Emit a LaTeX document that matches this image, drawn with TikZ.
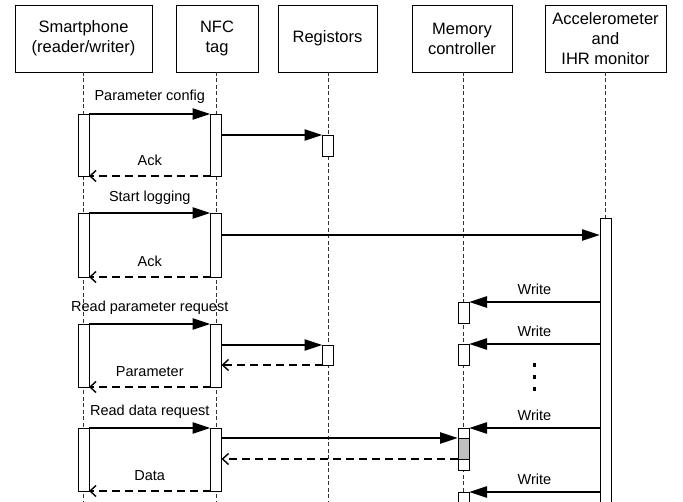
\documentclass[tikz,border=0pt]{standalone}
\usepackage{fontspec}
\setmainfont{Liberation Sans}
\usetikzlibrary{arrows.meta}

\tikzset{
  head/.style={draw, line width=0.8pt, minimum width=#1, minimum height=67pt,
    inner sep=0pt, outer sep=0pt, align=center,
    font=\fontsize{16.5}{20}\selectfont},
  life/.style={line width=0.6pt, dash pattern=on 4pt off 2.5pt, black!80},
  act/.style={draw, fill=white, line width=0.8pt, minimum width=11pt,
    inner sep=0pt, outer sep=0pt},
  msg/.style={line width=2.4pt, -{Triangle[length=18pt,width=11pt]}},
  ret/.style={line width=1.4pt, dash pattern=on 8pt off 5pt,
    -{Straight Barb[length=6pt,width=11pt,line width=1.4pt]}},
  lbl/.style={font=\fontsize{14.5}{17}\selectfont, inner sep=0pt,
    text height=10.5pt, text depth=3pt},
}

% activation bar between two y values on a lifeline at x
\newcommand{\actbar}[4]{%
  \node[act, minimum height={#4-#3}] (#1) at (#2,{(#3+#4)/2}) {};}

\begin{document}
\begin{tikzpicture}[x=1pt,y=-1pt]
\useasboundingbox (0,0) rectangle (683,502);

% participants
\node[head, minimum width=137pt] (hS) at (83.5,38.5) {Smartphone\\(reader/writer)};
\node[head, minimum width=82pt]  (hN) at (217,38.5)  {NFC\\tag};
\node[head, minimum width=99pt]  (hR) at (327.5,38.5) {Registors};
\node[head, minimum width=100pt] (hM) at (462,38.5)  {Memory\\controller};
\node[head, minimum width=121pt] (hA) at (605.5,38.5) {Accelerometer\\and\\IHR monitor};

% lifelines
\coordinate (eS) at (83.5,502);
\coordinate (eN) at (216,502);
\coordinate (eR) at (328,502);
\coordinate (eM) at (463.5,502);
\coordinate (eA) at (605.5,502);
\draw[life] (83.5,72) -- (eS);
\draw[life] (216,72) -- (eN);
\draw[life] (328,72) -- (eR);
\draw[life] (463.5,72) -- (eM);
\draw[life] (605.5,72) -- (eA);

% activation bars
\actbar{s1}{83.5}{114}{176}
\actbar{s2}{83.5}{213}{277}
\actbar{s3}{83.5}{324}{387}
\actbar{s4}{83.5}{428}{491}
\actbar{n1}{216}{114}{176}
\actbar{n2}{216}{213}{277}
\actbar{n3}{216}{324}{387}
\actbar{n4}{216}{428}{491}
\actbar{r1}{328}{135}{156}
\actbar{r2}{328}{345}{365}
\actbar{m1}{463.5}{302}{323}
\actbar{m2}{463.5}{344}{365}
\actbar{m3}{463.5}{428}{470}
\node[act, fill=black!25, minimum height=21pt] (m3g) at (463.5,448.5) {};
\actbar{m4}{463.5}{492}{506}
\actbar{a1}{605.5}{218}{506}

% parameter configuration
\draw[msg] (s1.north east) -- node[lbl, above=9pt] {Parameter config} (n1.north west);
\draw[msg] (n1.east |- r1.north) -- (r1.north west);
\draw[ret] (n1.south west) -- node[lbl, above=7pt] {Ack} (s1.south east);

% start logging
\draw[msg] (s2.north east) -- node[lbl, above=7pt] {Start logging} (n2.north west);
\draw[msg] (n2.east |- 0,235) -- (a1.west |- 0,235);
\draw[ret] (n2.south west) -- node[lbl, above=7pt] {Ack} (s2.south east);

% read parameter
\draw[msg] (s3.north east) -- node[lbl, above=8pt] {Read parameter request} (n3.north west);
\draw[msg] (n3.east |- r2.north) -- (r2.north west);
\draw[ret] (r2.south west) -- (n3.east |- r2.south);
\draw[ret] (n3.south west) -- node[lbl, above=7pt] {Parameter} (s3.south east);

% read data
\draw[msg] (s4.north east) -- node[lbl, above=8pt] {Read data request} (n4.north west);
\draw[msg] (n4.east |- m3g.north) -- (m3g.north west);
\draw[ret] (m3g.south west) -- (n4.east |- m3g.south);
\draw[ret] (n4.south west) -- node[lbl, above=7pt] {Data} (s4.south east);

% periodic writes into memory
\draw[msg] (a1.west |- m1.north) -- node[lbl, above=3pt] {Write} (m1.north east);
\draw[msg] (a1.west |- m2.north) -- node[lbl, above=3pt] {Write} (m2.north east);
\draw[msg] (a1.west |- m3.north) -- node[lbl, above=3pt] {Write} (m3.north east);
\draw[msg] (a1.west |- m4.north) -- node[lbl, above=3pt] {Write} (m4.north east);

% ellipsis between writes
\foreach \yy/\nm in {365/d1,377/d2,389/d3}
  \node[fill=black, inner sep=0pt, minimum size=3.2pt] (\nm) at (534.5,\yy) {};
\end{tikzpicture}
\end{document}
